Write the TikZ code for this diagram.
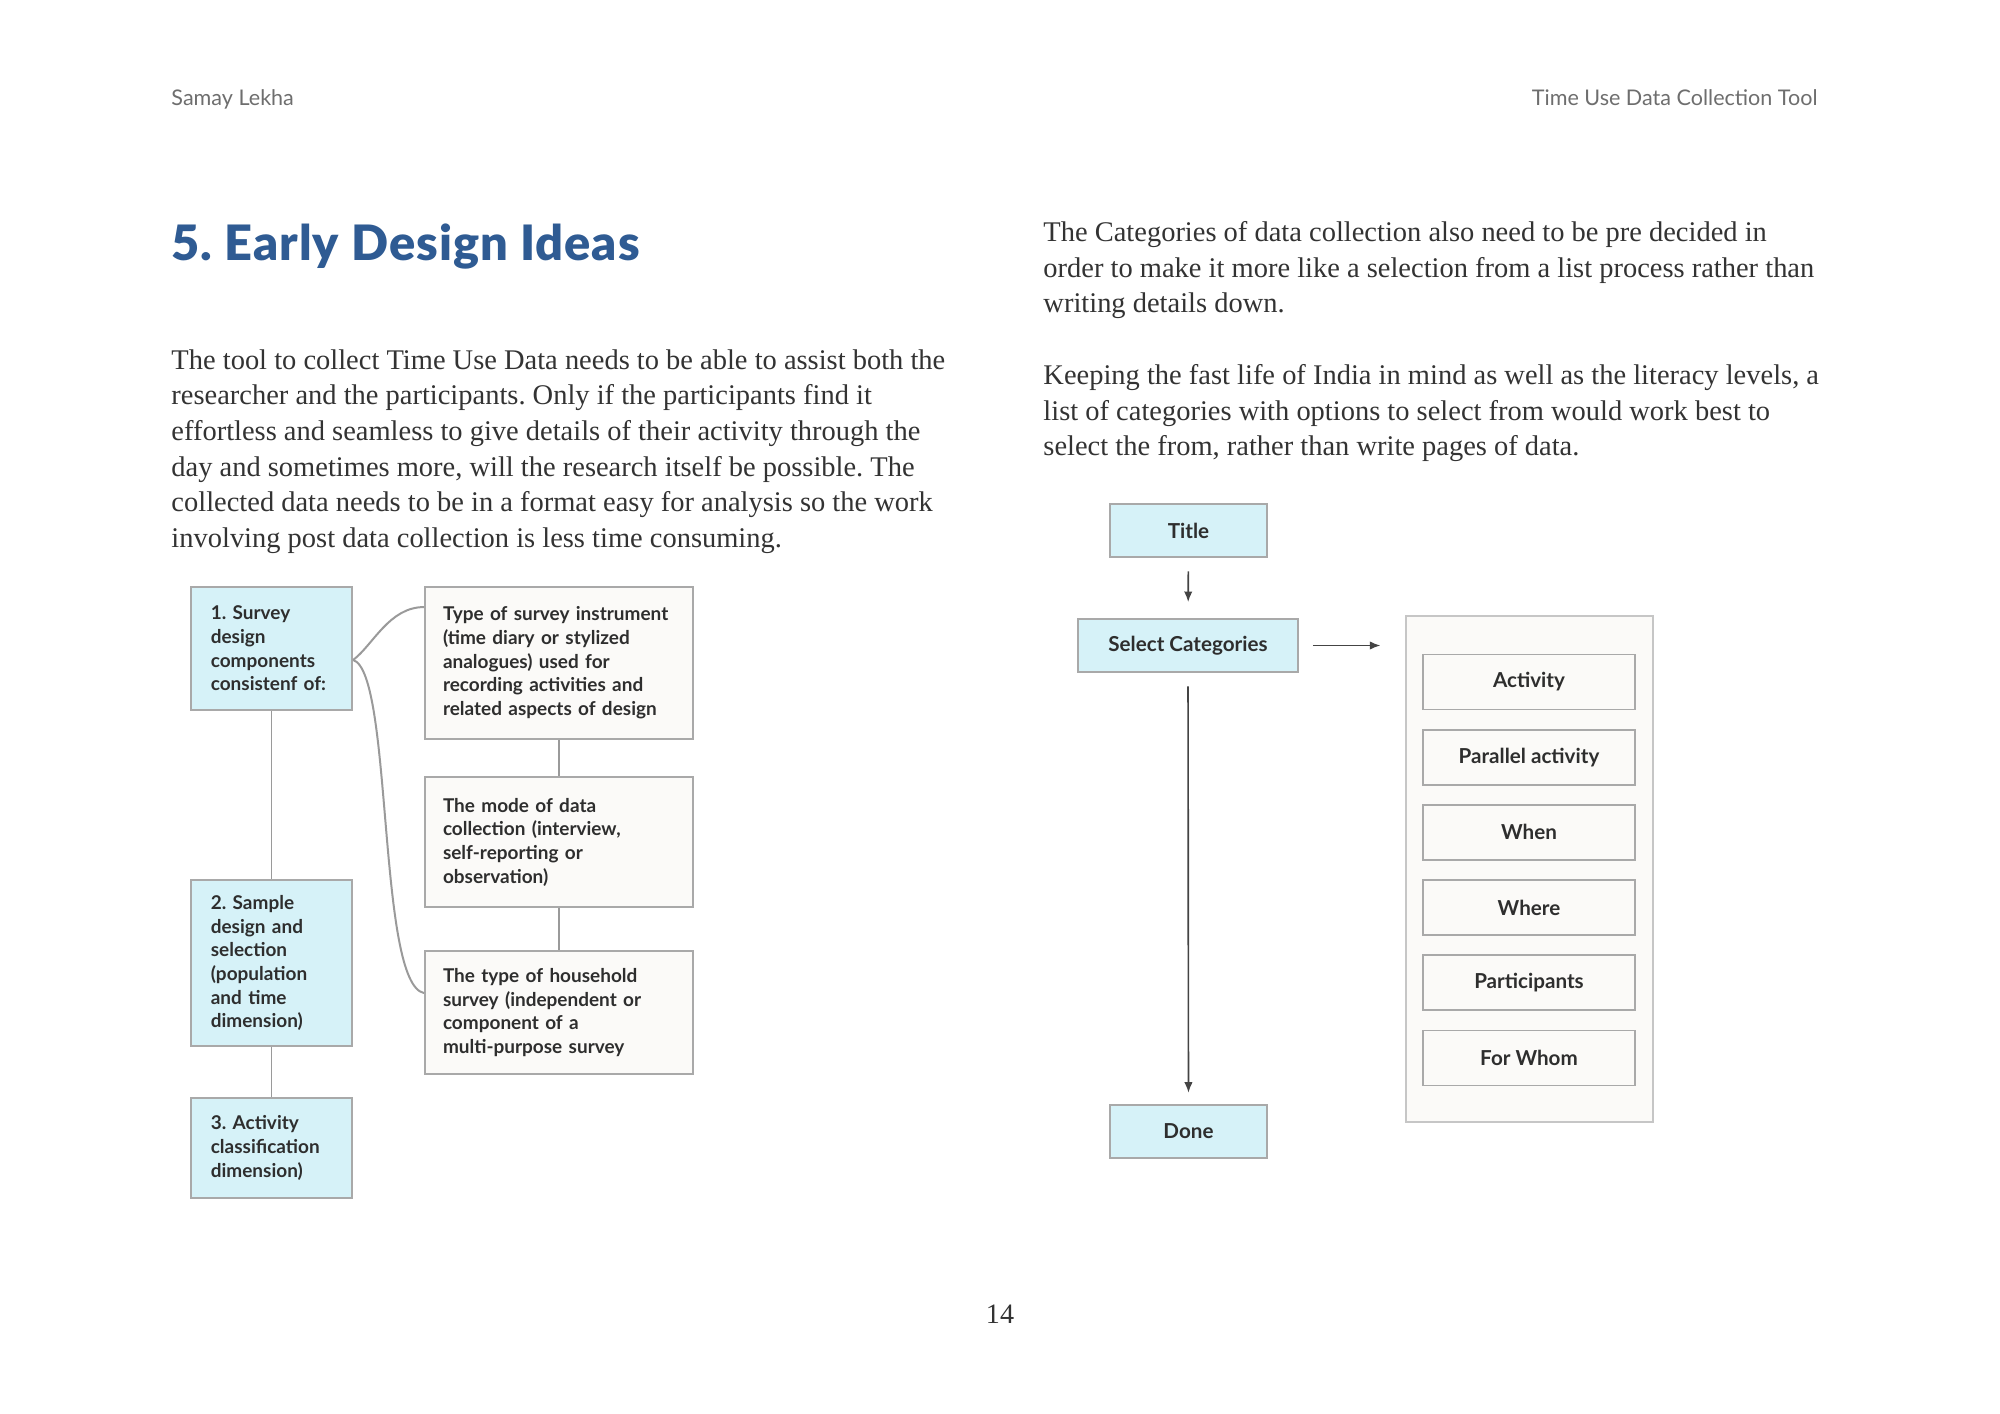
\documentclass[tikz,border=0pt]{standalone}
\usepackage{fontspec}
\setmainfont{Liberation Serif}
\setsansfont{Lato}
\newfontfamily\headfont{Lato Black}[LetterSpace=2]
\usetikzlibrary{arrows.meta, positioning, calc}
\frenchspacing

\definecolor{cellblue}{HTML}{D6F2F8}
\definecolor{paper}{HTML}{FBFAF8}
\definecolor{edgegrey}{HTML}{A9A9A9}
\definecolor{framegrey}{HTML}{C6C6C6}
\definecolor{linkgrey}{HTML}{9A9A9A}
\definecolor{arrowgrey}{HTML}{444444}
\definecolor{inktext}{HTML}{2E2E2E}
\definecolor{bodytext}{HTML}{333333}
\definecolor{headgrey}{HTML}{6E6E6E}
\definecolor{titleblue}{HTML}{2F5B93}

\begin{document}
\begin{tikzpicture}[x=0.015cm, y=-0.015cm,
    boxfont/.style={font=\sffamily\bfseries\fontsize{8.1}{10.1}\selectfont, text=inktext},
    bluebox/.style={boxfont, draw=edgegrey, line width=0.8pt, fill=cellblue, align=left,
        inner xsep=0.3cm, minimum width=2.42cm, text width=1.82cm},
    notebox/.style={boxfont, draw=edgegrey, line width=0.8pt, fill=paper, align=left,
        inner xsep=0.27cm, minimum width=4.02cm, text width=3.48cm},
    flowbox/.style={boxfont, font=\sffamily\bfseries\fontsize{8.8}{10.5}\selectfont,
        draw=edgegrey, line width=0.8pt, fill=cellblue, minimum height=0.795cm},
    itembox/.style={boxfont, font=\sffamily\bfseries\fontsize{8.8}{10.5}\selectfont,
        draw=edgegrey, line width=0.8pt, fill=paper, minimum width=3.18cm, minimum height=0.825cm},
    link/.style={draw=linkgrey, line width=0.85pt},
    flow/.style={draw=arrowgrey, line width=0.7pt, -{Latex[length=4.5pt, width=3.6pt]}},
    body/.style={anchor=north west, inner sep=0pt, align=left, text=bodytext, font=\fontsize{12.15}{15.2}\selectfont}
]
\fill[white] (0,0) rectangle (2000,1414);
\useasboundingbox (0,0) rectangle (2000,1414);

% page frame
\node[anchor=base west, inner sep=0pt, text=headgrey, font=\sffamily\fontsize{9.2}{11}\selectfont] (author) at (171,106) {Samay Lekha};
\node[anchor=base east, inner sep=0pt, text=headgrey, font=\sffamily\fontsize{9.2}{11}\selectfont] (project) at (1818,106) {Time Use Data Collection Tool};
\node[anchor=base west, inner sep=0pt, text=titleblue, font=\headfont\fontsize{20.8}{23}\selectfont] (heading) at (171,261) {5. Early Design Ideas};
\node[inner sep=0pt, text=bodytext, font=\fontsize{12}{14}\selectfont] (pageno) at (1000,1314) {14};

\node[body] (introtext) at (171,349) {The tool to collect Time Use Data needs to be able to assist both the\\
researcher and the participants. Only if the participants find it\\
effortless and seamless to give details of their activity through the\\
day and sometimes more, will the research itself be possible. The\\
collected data needs to be in a format easy for analysis so the work\\
involving post data collection is less time consuming.};
\node[body] (cattext) at (1043,221) {The Categories of data collection also need to be pre decided in\\
order to make it more like a selection from a list process rather than\\
writing details down.};
\node[body] (indiatext) at (1043,364) {Keeping the fast life of India in mind as well as the literacy levels, a\\
list of categories with options to select from would work best to\\
select the from, rather than write pages of data.};

% survey components
\node[bluebox, minimum height=1.845cm] (design) at (271.5,648.5) {1. Survey\\ design\\ components\\ consistenf of:};
\node[bluebox, minimum height=2.49cm] (sample) at (271.5,963) {2. Sample\\ design and\\ selection\\ (population\\ and time\\ dimension)};
\node[bluebox, minimum height=1.5cm] (activity) at (271.5,1148) {3. Activity\\ classification\\ dimension)};
\node[notebox, minimum height=2.28cm] (instrument) at (559,663) {Type of survey instrument\\ (time diary or stylized\\ analogues) used for\\ recording activities and\\ related aspects of design};
\node[notebox, minimum height=1.95cm] (mode) at (559,842) {The mode of data\\ collection (interview,\\ self-reporting or\\ observation)};
\node[notebox, minimum height=1.845cm] (household) at (559,1012.5) {The type of household\\ survey (independent or\\ component of a\\ multi-purpose survey};

\draw[link] (design) -- (sample);
\draw[link] (sample) -- (activity);
\draw[link] (instrument) -- (mode);
\draw[link] (mode) -- (household);
\coordinate (fork) at ($(design.east)+(0,11.5)$);
\coordinate (toinstr) at ($(instrument.north west)+(0,21)$);
\coordinate (tohouse) at ($(household.north west)+(0,43)$);
\draw[link] (fork) .. controls +(20,-15) and +(-35,0) .. (toinstr);
\draw[link] (fork) .. controls +(40,12) and +(-47,-9) .. (tohouse);

% category flow
\node[flowbox, minimum width=2.355cm] (title) at (1188.5,530.5) {Title};
\node[flowbox, minimum width=3.3cm] (select) at (1188,645.5) {Select Categories};
\node[flowbox, minimum width=2.355cm] (done) at (1188.5,1131.5) {Done};
\node[draw=framegrey, line width=0.8pt, fill=paper, minimum width=3.705cm, minimum height=7.59cm] (catlist) at (1529.5,869) {};
\foreach \lbl [count=\i] in {Activity, Parallel activity, When, Where, Participants, For Whom}
  \node[itembox] (item\i) at (1529,{682+75.2*(\i-1)}) {\lbl};

\draw[flow, shorten <=0.2cm, shorten >=0.24cm] (title) -- (select);
\draw[flow, shorten <=0.2cm, shorten >=0.17cm] (select) -- (done);
\draw[flow, shorten <=0.21cm, shorten >=0.37cm] (select.east) -- (select.east -| catlist.west);
\end{tikzpicture}
\end{document}
